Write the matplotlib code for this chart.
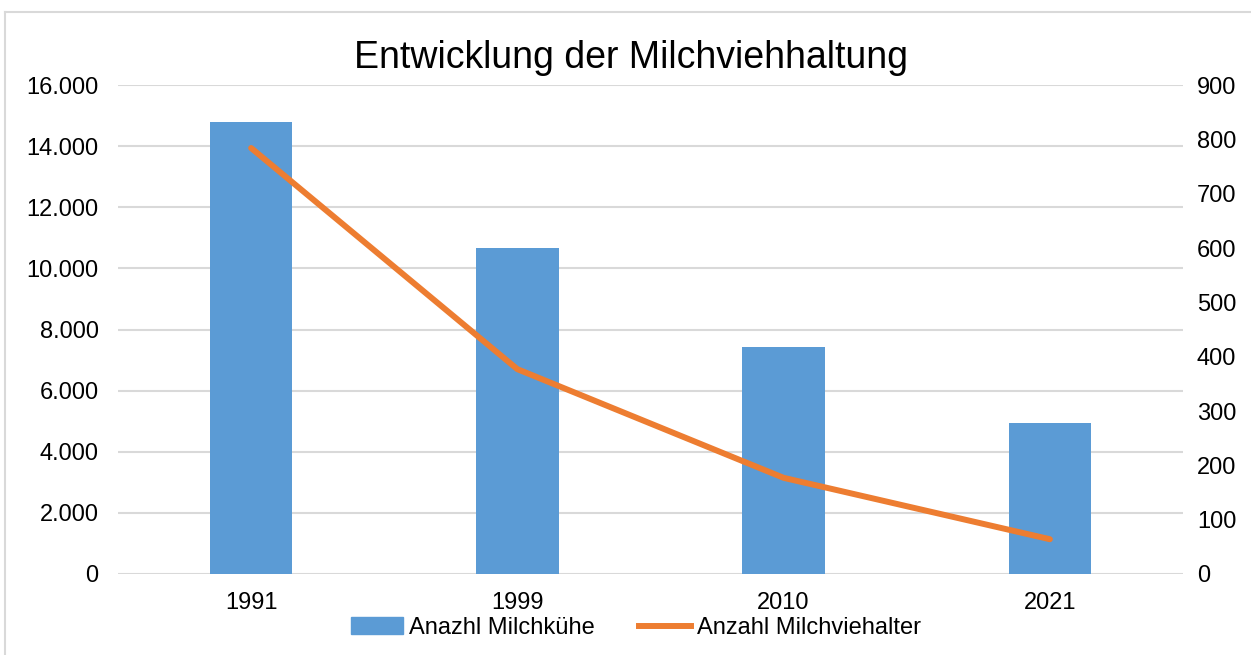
import matplotlib
matplotlib.use("Agg")
import matplotlib.pyplot as plt
from matplotlib.ticker import FuncFormatter
from matplotlib.lines import Line2D

years = ["1991", "1999", "2010", "2021"]
kuehe = [14790, 10670, 7430, 4940]
halter = [784, 377, 177, 64]

plt.rcParams['font.family'] = ['Liberation Sans', 'DejaVu Sans']

fig = plt.figure(figsize=(12.51, 6.55), dpi=100)
ax = fig.add_axes([118/1251, 81/655, 1065/1251, 489/655])
ax2 = ax.twinx()

x = list(range(len(years)))
ax.bar(x, kuehe, width=0.31, color='#5B9BD5', zorder=2, label='Anazhl Milchkühe')
ax2.plot(x, halter, color='#ED7D31', lw=4.3, solid_capstyle='round', zorder=3, label='Anzahl Milchviehalter')

ax.set_xlim(-0.5, 3.5)
ax.set_ylim(0, 16000)
ax.set_yticks(range(0, 16001, 2000))
ax.yaxis.set_major_formatter(FuncFormatter(lambda v, p: f"{int(v):,}".replace(",", ".")))
ax2.set_ylim(0, 900)
ax2.set_yticks(range(0, 901, 100))
ax.set_xticks(x)
ax.set_xticklabels(years)

ax.grid(axis='y', color='#D9D9D9', lw=1.5, zorder=0)
ax.set_axisbelow(True)
for a in (ax, ax2):
    for s in a.spines.values():
        s.set_visible(False)
    a.tick_params(length=0, labelsize=17, colors='#000000')
ax.tick_params(axis='y', pad=14)
ax2.tick_params(axis='y', pad=10)
ax.tick_params(axis='x', pad=13)

ax.set_title("Entwicklung der Milchviehhaltung", fontsize=27, pad=12, x=0.482)

handles = [plt.Rectangle((0, 0), 1, 1, color='#5B9BD5'),
           Line2D([0], [0], color='#ED7D31', lw=4.3)]
fig.legend(handles, ['Anazhl Milchkühe', 'Anzahl Milchviehalter'],
           loc='center', bbox_to_anchor=(636/1251, 1 - 628/655), ncol=2,
           frameon=False, fontsize=17, handlelength=2.2, handletextpad=0.25,
           columnspacing=1.85, borderpad=0)

# outer chart border (top and left visible)
fig.add_artist(Line2D([5/1251, 1], [1 - 12/655, 1 - 12/655], color='#D9D9D9', lw=1.5, transform=fig.transFigure))
fig.add_artist(Line2D([5/1251, 5/1251], [0, 1 - 12/655], color='#D9D9D9', lw=1.5, transform=fig.transFigure))

fig.savefig("out.png", dpi=100)
